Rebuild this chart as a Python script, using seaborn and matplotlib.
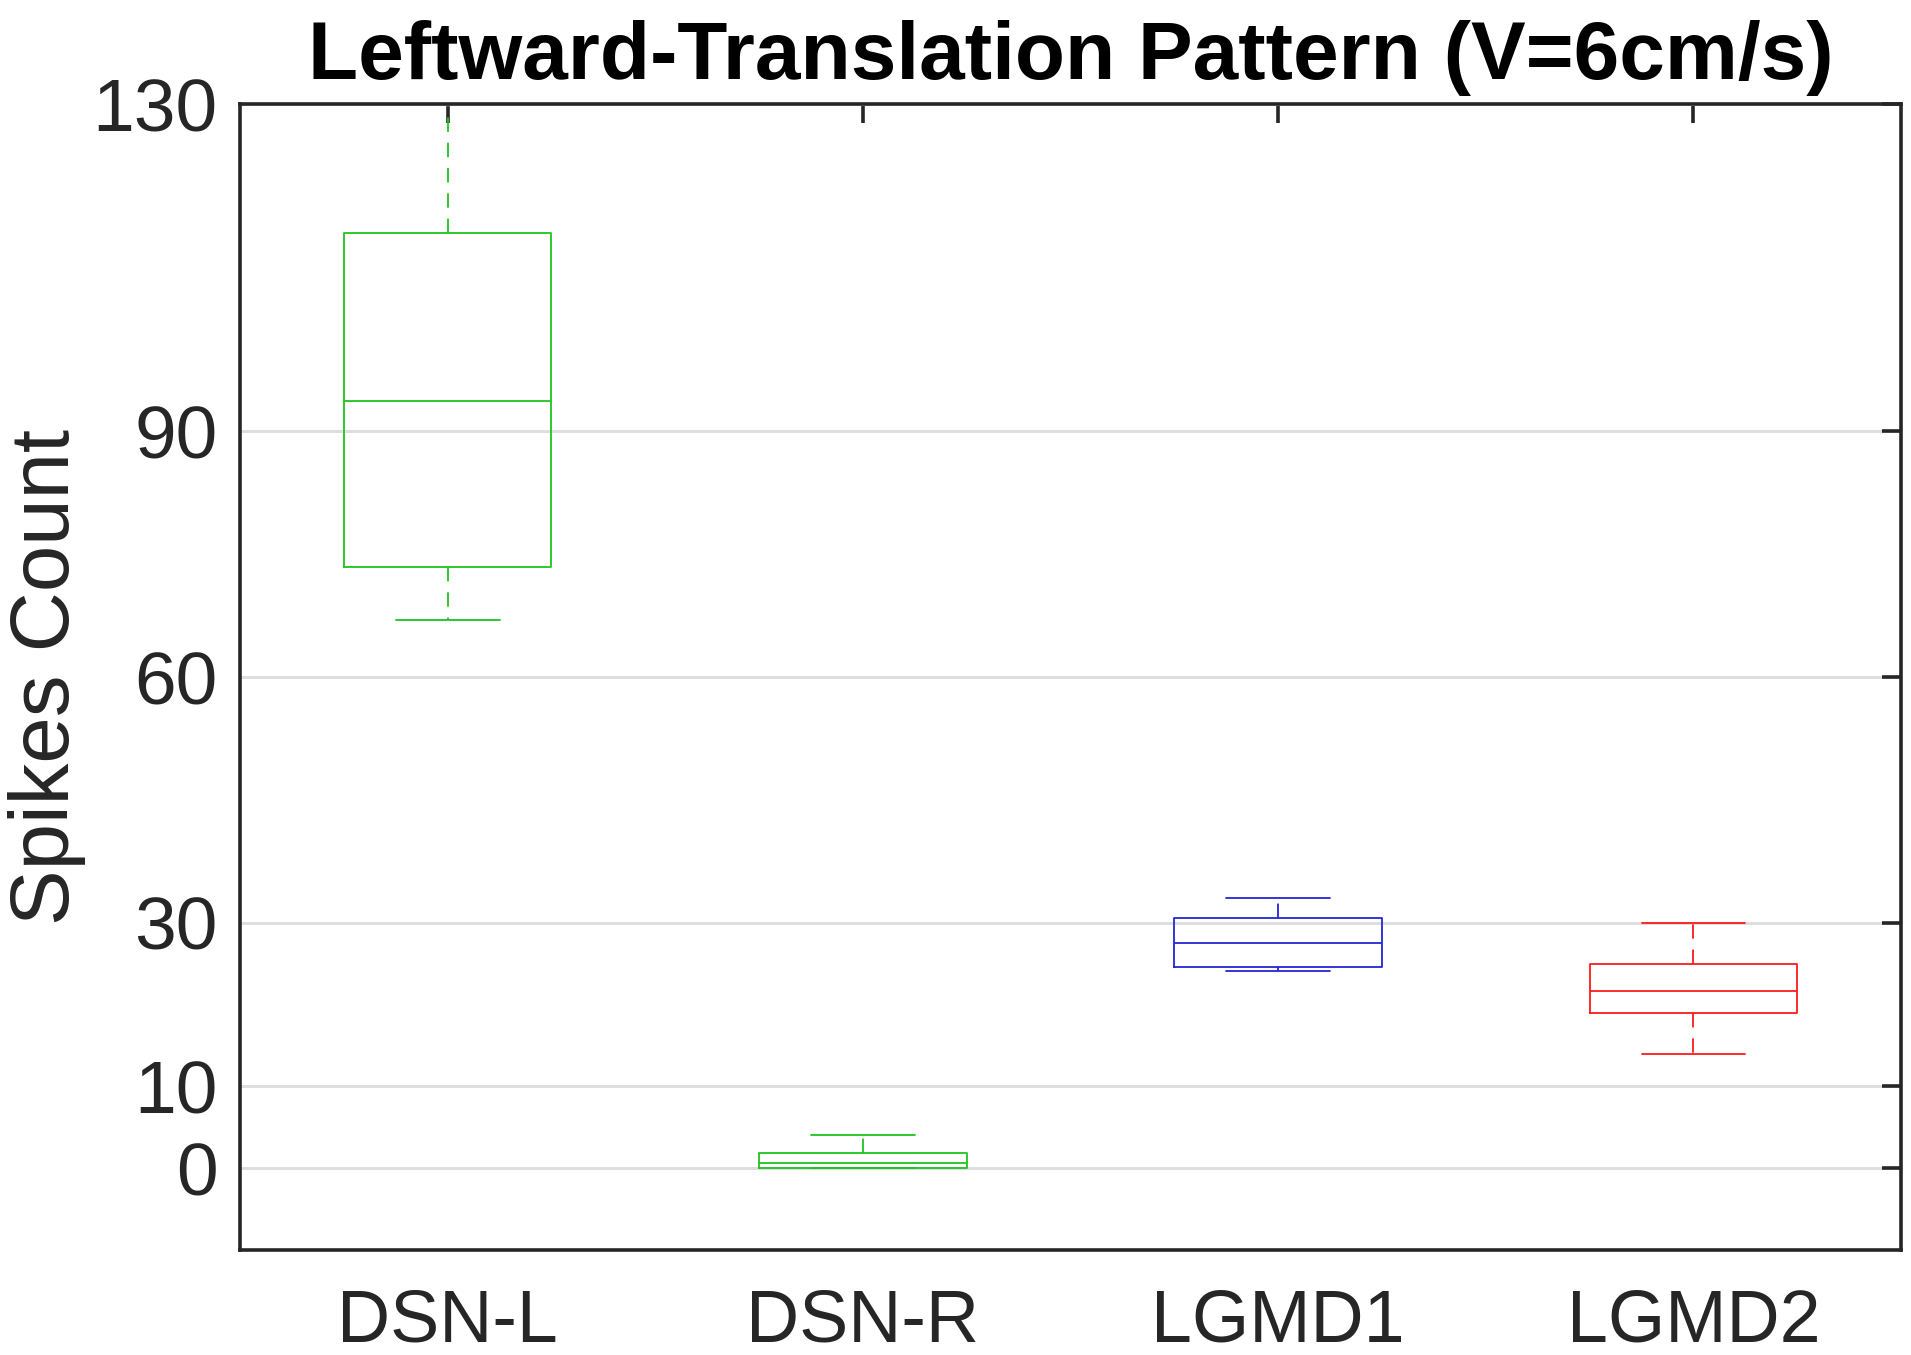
import matplotlib
matplotlib.use("Agg")
import matplotlib.pyplot as plt
import seaborn as sns
import pandas as pd

# values: [lower whisker, q1, median, q3, upper whisker]
neurons = ["DSN-L", "DSN-R", "LGMD1", "LGMD2"]
dsn_l = [67.0, 73.4, 93.7, 114.3, 130.0]
dsn_r = [0.0, 0.0, 0.6, 1.9, 4.0]
lgmd1 = [24.1, 24.6, 27.5, 30.5, 33.0]
lgmd2 = [14.0, 19.0, 21.6, 25.0, 30.0]
colors = ["#1fc41f", "#1fc41f", "#2525d8", "#ff1a1a"]
yticks = [0, 10, 30, 60, 90, 130]

df = pd.DataFrame({
    "neuron": [n for n, v in zip(neurons, [dsn_l, dsn_r, lgmd1, lgmd2]) for _ in v],
    "spikes": dsn_l + dsn_r + lgmd1 + lgmd2,
})

sns.set_theme(style="white")
plt.rcParams["font.family"] = ["Liberation Sans", "DejaVu Sans"]

fig = plt.figure(figsize=(19.11, 13.55), dpi=100)
ax = fig.add_axes([0.1256, 0.0775, 0.8692, 0.8457])

sns.boxplot(data=df, x="neuron", y="spikes", hue="neuron", palette=colors,
            order=neurons, hue_order=neurons, fill=False, width=0.5, whis=1.5,
            linewidth=1.3, legend=False, ax=ax,
            whiskerprops={"linestyle": (0, (8, 6))},
            capwidths=0.25)

ax.set_ylim(-10, 130)
ax.set_xlim(-0.5, 3.5)
ax.set_yticks(yticks)
ax.set_yticklabels([str(t) for t in yticks])
ax.yaxis.grid(True, color="#dedede", linewidth=2.2)
ax.set_axisbelow(True)

for s in ax.spines.values():
    s.set_color("#262626")
    s.set_linewidth(2.6)
ax.tick_params(axis="both", direction="in", length=14, width=2.6, color="#262626",
               labelsize=54, labelcolor="#262626", top=True, right=True)
ax.tick_params(axis="y", pad=16)
ax.tick_params(axis="x", pad=27, labelsize=53)

ax.set_xlabel("")
ax.set_ylabel("Spikes Count", fontsize=60, color="#262626", labelpad=5)
ax.set_title("Leftward-Translation Pattern (V=6cm/s)", fontsize=59, fontweight="bold",
             color="black", pad=18)

fig.savefig("out.png", dpi=100)
